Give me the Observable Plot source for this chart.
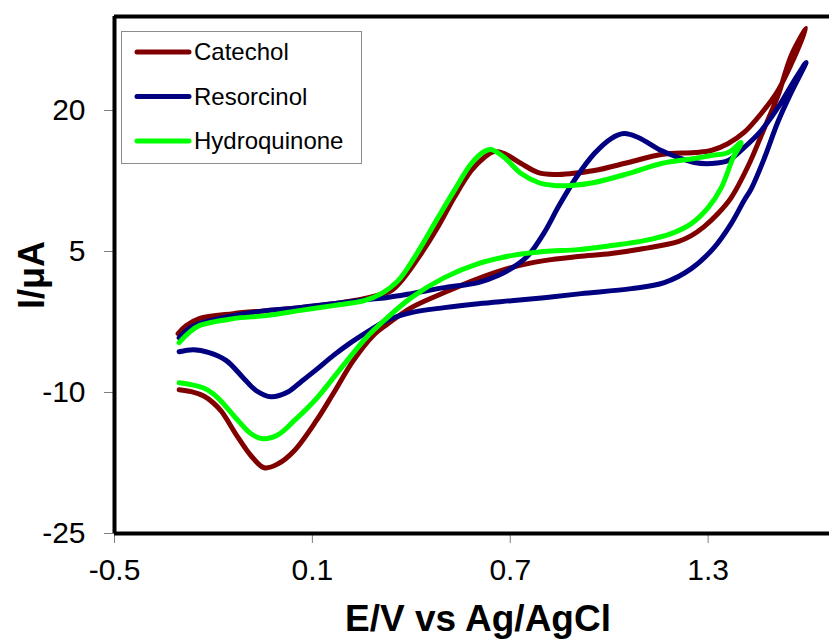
<!DOCTYPE html>
<html>
<head>
<meta charset="utf-8">
<script src="https://cdn.jsdelivr.net/npm/d3@7"></script>
<script src="https://cdn.jsdelivr.net/npm/@observablehq/plot@0.6"></script>
<style>
  body { margin: 0; background: #fff; }
  #chart { width: 829px; height: 639px; }
</style>
</head>
<body>
<div id="chart"></div>
<script>
const FONT = "Arial, 'Liberation Sans', Helvetica, sans-serif";

const series = ["Catechol", "Resorcinol", "Hydroquinone"];
const colors = ["#800000", "#000080", "#00ff00"];
const xTicks = [-0.5, 0.1, 0.7, 1.3];
const yTicks = [-25, -10, 5, 20];

// Cyclic voltammograms: potential E (V vs Ag/AgCl) and current I (µA),
// listed in sweep order — anodic scan first, then the return scan.
const catecholE = [
  -0.307, -0.283, -0.243, -0.140, -0.040, 0.060, 0.163, 0.242, 0.294, 0.339,
  0.378, 0.430, 0.481, 0.530, 0.582, 0.621, 0.651, 0.682, 0.733, 0.785,
  0.833, 0.885, 0.955, 1.058, 1.158, 1.258, 1.309, 1.361, 1.409, 1.461,
  1.512, 1.561, 1.597,
  1.552, 1.512, 1.470, 1.422, 1.370, 1.330, 1.288, 1.249, 1.209, 1.106,
  1.006, 0.906, 0.803, 0.703, 0.603, 0.500, 0.400, 0.330, 0.284, 0.224,
  0.163, 0.112, 0.045, -0.004, -0.046, -0.086, -0.125, -0.176, -0.201,
  -0.228, -0.267, -0.304
];
const catecholI = [
  -3.74, -2.89, -2.14, -1.61, -1.29, -0.97, -0.55, -0.12, 0.31, 0.84,
  2.22, 4.78, 7.63, 10.74, 13.61, 15.00, 15.64, 15.42, 14.36, 13.40,
  13.19, 13.29, 13.61, 14.47, 15.32, 15.53, 15.74, 16.49, 17.66, 19.68,
  22.13, 25.64, 28.73,
  25.86, 21.60, 18.09, 14.15, 10.74, 9.04, 7.65, 6.69, 6.05, 5.31,
  4.78, 4.46, 4.03, 3.29, 2.12, 0.63, -0.97, -2.67, -3.95, -6.61,
  -10.13, -13.00, -16.19, -17.58, -18.01, -16.73, -14.81, -12.00, -11.09,
  -10.40, -9.91, -9.70
];

const resorcinolE = [
  -0.304, -0.274, -0.243, -0.140, -0.040, 0.060, 0.163, 0.263, 0.324, 0.400,
  0.500, 0.603, 0.663, 0.712, 0.754, 0.803, 0.848, 0.900, 0.955, 1.006,
  1.045, 1.088, 1.158, 1.209, 1.258, 1.309, 1.361, 1.409, 1.461, 1.512,
  1.561, 1.597,
  1.552, 1.512, 1.470, 1.431, 1.409, 1.370, 1.318, 1.249, 1.167, 1.067,
  0.915, 0.803, 0.703, 0.603, 0.500, 0.400, 0.324, 0.263, 0.212, 0.163,
  0.112, 0.066, 0.027, -0.025, -0.070, -0.110, -0.161, -0.213, -0.261, -0.304
];
const resorcinolI = [
  -4.17, -3.21, -2.67, -1.82, -1.29, -0.97, -0.55, -0.12, 0.09, 0.52,
  1.16, 1.69, 2.44, 3.39, 4.56, 7.01, 9.89, 12.87, 15.42, 17.02,
  17.55, 17.13, 15.74, 15.00, 14.47, 14.36, 14.68, 16.06, 17.87, 20.32,
  23.19, 25.11,
  21.92, 18.83, 14.89, 11.70, 10.42, 7.97, 5.42, 3.18, 1.69, 1.05,
  0.52, 0.09, -0.23, -0.55, -0.97, -1.50, -2.36, -3.63, -4.80, -6.08,
  -7.57, -8.85, -9.91, -10.45, -9.81, -8.42, -6.61, -5.76, -5.44, -5.66
];

const hydroquinoneE = [
  -0.304, -0.274, -0.243, -0.140, -0.040, 0.060, 0.163, 0.257, 0.309, 0.360,
  0.409, 0.481, 0.530, 0.582, 0.621, 0.642, 0.682, 0.733, 0.785,
  0.833, 0.885, 0.955, 1.058, 1.158, 1.258, 1.309, 1.361, 1.400,
  1.376, 1.340, 1.300, 1.249, 1.188, 1.106, 1.006, 0.906, 0.803, 0.703,
  0.603, 0.500, 0.400, 0.324, 0.263, 0.181, 0.112, 0.045, -0.004, -0.049,
  -0.086, -0.125, -0.176, -0.201, -0.228, -0.267, -0.304
];
const hydroquinoneI = [
  -4.70, -3.63, -2.89, -2.14, -1.82, -1.29, -0.76, -0.23, 0.52, 1.90,
  4.35, 8.61, 11.48, 14.36, 15.64, 15.85, 15.00, 13.29, 12.34,
  12.02, 12.02, 12.34, 13.29, 14.36, 14.89, 15.21, 15.53, 16.59,
  15.00, 11.80, 9.67, 7.97, 6.91, 6.16, 5.63, 5.20, 4.99, 4.56,
  3.71, 2.22, 0.09, -2.14, -4.17, -7.68, -10.66, -13.00, -14.49, -14.92,
  -14.39, -13.00, -10.95, -10.13, -9.55, -9.17, -8.96
];

const potentials = [catecholE, resorcinolE, hydroquinoneE];
const currents = [catecholI, resorcinolI, hydroquinoneI];

const rows = series.flatMap((name, k) =>
  potentials[k].map((E, i) => ({series: name, E, I: currents[k][i]}))
);

const plot = Plot.plot({
  width: 829,
  height: 639,
  marginLeft: 114,
  marginRight: 0,
  marginTop: 16,
  marginBottom: 106,
  style: {fontFamily: FONT, background: "#fff", overflow: "visible", color: "#000"},
  x: {domain: [-0.5, 1.668]},
  y: {domain: [-25, 30]},
  color: {domain: series, range: colors},
  marks: [
    Plot.axisX(xTicks, {
      tickSize: 10, tickPadding: 15, stroke: "#7f7f7f", fill: "#000",
      fontSize: 30, tickFormat: d => String(d), label: null
    }),
    Plot.axisY(yTicks, {
      tickSize: 10, tickPadding: 19, stroke: "#7f7f7f", fill: "#000",
      fontSize: 30, tickFormat: d => String(d), label: null
    }),
    Plot.line(rows, {
      x: "E", y: "I", z: "series", stroke: "series",
      strokeWidth: 5, curve: "catmull-rom",
      strokeLinecap: "round", strokeLinejoin: "round"
    }),
    // plot frame: left, bottom and top edges
    Plot.ruleX([-0.5], {stroke: "#000", strokeWidth: 4}),
    Plot.ruleY([-25], {stroke: "#000", strokeWidth: 4}),
    Plot.ruleY([30], {stroke: "#000", strokeWidth: 4}),
    // axis titles
    Plot.text(["E/V vs Ag/AgCl"], {
      text: d => d, frameAnchor: "bottom", textAnchor: "middle", lineAnchor: "middle",
      dx: 6, dy: 86, fontSize: 37, fontWeight: "bold", fill: "#000"
    }),
    Plot.text(["I/μA"], {
      text: d => d, frameAnchor: "left", textAnchor: "middle", lineAnchor: "middle",
      dx: -82, rotate: -90, fontSize: 36, fontWeight: "bold", fill: "#000"
    })
  ]
});

document.getElementById("chart").append(plot);

// boxed legend in the upper-left corner of the plot area
const svg = d3.select(plot);
const legend = svg.append("g")
  .attr("font-family", FONT)
  .attr("text-anchor", "start");
legend.append("rect")
  .attr("x", 121.5).attr("y", 31.5)
  .attr("width", 240).attr("height", 132)
  .attr("fill", "#fff").attr("stroke", "#8c8c8c").attr("stroke-width", 1);
series.forEach((name, i) => {
  const cy = 52 + i * 44.5;
  legend.append("line")
    .attr("x1", 137).attr("x2", 189).attr("y1", cy).attr("y2", cy)
    .attr("stroke", colors[i]).attr("stroke-width", 5)
    .attr("stroke-linecap", "round");
  legend.append("text")
    .attr("x", 194).attr("y", cy).attr("dy", "0.35em")
    .attr("font-size", 24).attr("fill", "#000")
    .attr("text-anchor", "start")
    .text(name);
});
</script>
</body>
</html>
